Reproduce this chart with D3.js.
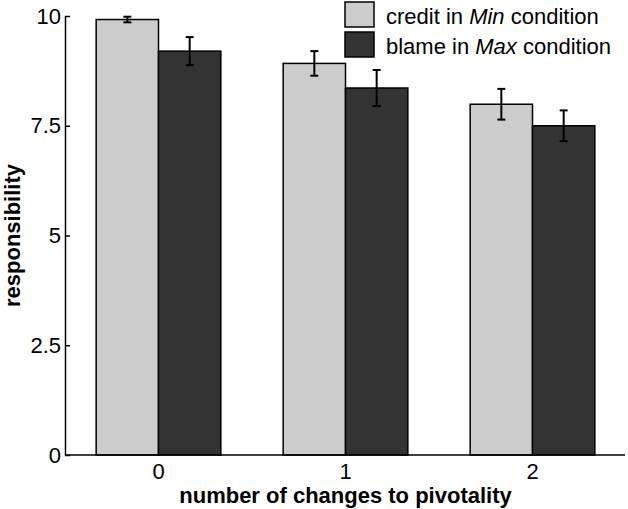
<!DOCTYPE html>
<html>
<head>
<meta charset="utf-8">
<script src="https://cdn.jsdelivr.net/npm/d3@7"></script>
<style>
  html, body { margin: 0; padding: 0; background: #fff; }
  svg { display: block; font-family: "Liberation Sans", Arial, Helvetica, sans-serif; }
</style>
</head>
<body>
<svg id="chart" width="628" height="509"></svg>
<script>
const categories = ["0", "1", "2"];
const seriesNames = ["credit", "blame"];
const creditValues = [9.92, 8.92, 7.99];
const creditErrors = [0.064, 0.28, 0.35];
const blameValues = [9.20, 8.36, 7.50];
const blameErrors = [0.32, 0.41, 0.35];
const yTickValues = [0, 2.5, 5, 7.5, 10];
const yTickLabels = ["0", "2.5", "5", "7.5", "10"];
const seriesColors = ["#cccccc", "#333333"];

const svg = d3.select("#chart");
const plotLeft = 65, plotRight = 626, plotTop = 16, plotBottom = 455;

const x = d3.scaleBand().domain(categories).range([plotLeft, plotRight]).padding(0);
const xi = d3.scaleBand().domain(seriesNames).range([0, x.bandwidth()]).paddingInner(0).paddingOuter(0.5);
const y = d3.scaleLinear().domain([0, 10]).range([plotBottom, plotTop]);

const rows = [];
categories.forEach((c, i) => {
  rows.push({cat: c, s: "credit", v: creditValues[i], e: creditErrors[i], color: seriesColors[0]});
  rows.push({cat: c, s: "blame", v: blameValues[i], e: blameErrors[i], color: seriesColors[1]});
});

// bars
svg.append("g").selectAll("rect").data(rows).join("rect")
  .attr("x", d => x(d.cat) + xi(d.s))
  .attr("y", d => y(d.v))
  .attr("width", xi.bandwidth())
  .attr("height", d => y(0) - y(d.v))
  .attr("fill", d => d.color)
  .attr("stroke", "#000")
  .attr("stroke-width", 1.5);

// error bars
const eg = svg.append("g").attr("stroke", "#000").attr("stroke-width", 2);
rows.forEach(d => {
  const cx = x(d.cat) + xi(d.s) + xi.bandwidth() / 2;
  const y1 = y(d.v + d.e), y2 = y(d.v - d.e);
  eg.append("line").attr("x1", cx).attr("x2", cx).attr("y1", y1).attr("y2", y2);
  eg.append("line").attr("x1", cx - 4).attr("x2", cx + 4).attr("y1", y1).attr("y2", y1);
  eg.append("line").attr("x1", cx - 4).attr("x2", cx + 4).attr("y1", y2).attr("y2", y2);
});

// y axis
const yAxis = d3.axisLeft(y).tickValues(yTickValues)
  .tickFormat((d, i) => yTickLabels[i]).tickSizeInner(-5).tickSizeOuter(0).tickPadding(4);
const ya = svg.append("g").attr("transform", `translate(${plotLeft},0)`).call(yAxis);
ya.select(".domain").attr("stroke", "#000").attr("stroke-width", 1.5);
ya.selectAll(".tick line").attr("stroke", "#000").attr("stroke-width", 1.5);
ya.selectAll(".tick text").attr("font-size", 22).attr("fill", "#000")
  .attr("font-family", "'Liberation Sans', Arial, sans-serif")
  .attr("x", -4);

// x axis
const xAxis = d3.axisBottom(x).tickSize(0).tickPadding(10);
const xa = svg.append("g").attr("transform", `translate(0,${plotBottom})`).call(xAxis);
xa.select(".domain").attr("stroke", "#000").attr("stroke-width", 1.5).attr("d", `M${plotLeft},0H${plotRight - 1}`);
xa.selectAll(".tick text").attr("font-size", 22).attr("fill", "#000")
  .attr("font-family", "'Liberation Sans', Arial, sans-serif")
  .attr("dy", null).attr("y", 24);

// axis titles
svg.append("text").attr("x", (plotLeft + plotRight) / 2).attr("y", 503)
  .attr("text-anchor", "middle").attr("font-size", 22).attr("font-weight", "bold")
  .text("number of changes to pivotality");
svg.append("text").attr("transform", `translate(20,${(plotTop + plotBottom) / 2}) rotate(-90)`)
  .attr("text-anchor", "middle").attr("font-size", 22).attr("font-weight", "bold")
  .text("responsibility");

// legend
const legend = [
  {color: seriesColors[0], pre: "credit in ", it: "Min", post: " condition"},
  {color: seriesColors[1], pre: "blame in ", it: "Max", post: " condition"}
];
legend.forEach((l, i) => {
  const g = svg.append("g").attr("transform", `translate(345,${2 + i * 30})`);
  g.append("rect").attr("width", 29).attr("height", 25).attr("fill", l.color)
    .attr("stroke", "#000").attr("stroke-width", 1.5);
  const t = g.append("text").attr("x", 41).attr("y", 22).attr("font-size", 22).attr("fill", "#000");
  t.append("tspan").text(l.pre);
  t.append("tspan").attr("font-style", "italic").text(l.it);
  t.append("tspan").text(l.post);
});
</script>
</body>
</html>
